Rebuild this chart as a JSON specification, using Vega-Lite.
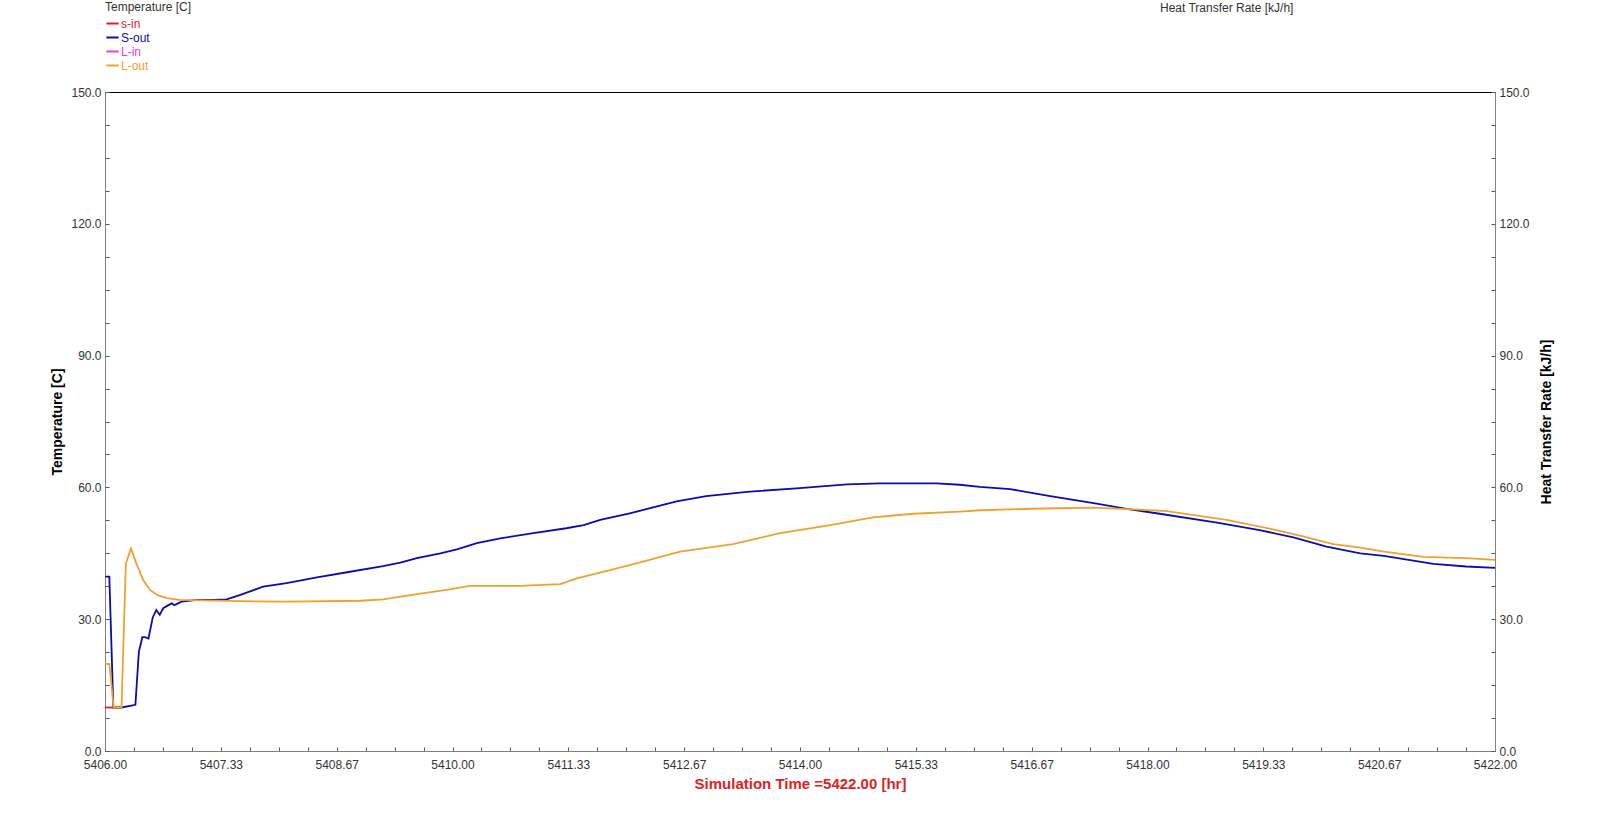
{
  "$schema": "https://vega.github.io/schema/vega-lite/v6.json",
  "autosize": {"type": "none"},
  "width": 1390,
  "height": 659,
  "padding": {"left": 105, "top": 92, "right": 105, "bottom": 71},
  "background": "white",
  "config": {
    "font": "Liberation Sans",
    "view": {"stroke": "#000000", "strokeWidth": 1}
  },
  "title": {
    "text": "Heat Transfer Rate [kJ/h]",
    "anchor": "start",
    "frame": "group",
    "orient": "top",
    "dx": 1055,
    "offset": -13,
    "fontSize": 12,
    "fontWeight": "normal",
    "color": "#333333",
    "font": "Liberation Sans"
  },
  "datasets": {
    "series": [
      {"t": 5406.00, "v": 9.9, "s": "s-in"},
      {"t": 5406.19, "v": 9.9, "s": "s-in"},

      {"t": 5406.00, "v": 39.7, "s": "S-out"},
      {"t": 5406.05, "v": 39.7, "s": "S-out"},
      {"t": 5406.096, "v": 9.9, "s": "S-out"},
      {"t": 5406.19, "v": 9.9, "s": "S-out"},
      {"t": 5406.35, "v": 10.5, "s": "S-out"},
      {"t": 5406.39, "v": 22.6, "s": "S-out"},
      {"t": 5406.43, "v": 25.9, "s": "S-out"},
      {"t": 5406.46, "v": 25.9, "s": "S-out"},
      {"t": 5406.50, "v": 25.6, "s": "S-out"},
      {"t": 5406.55, "v": 30.4, "s": "S-out"},
      {"t": 5406.59, "v": 32.1, "s": "S-out"},
      {"t": 5406.63, "v": 31.0, "s": "S-out"},
      {"t": 5406.67, "v": 32.5, "s": "S-out"},
      {"t": 5406.73, "v": 33.2, "s": "S-out"},
      {"t": 5406.77, "v": 33.6, "s": "S-out"},
      {"t": 5406.80, "v": 33.2, "s": "S-out"},
      {"t": 5406.88, "v": 34.0, "s": "S-out"},
      {"t": 5407.06, "v": 34.4, "s": "S-out"},
      {"t": 5407.25, "v": 34.4, "s": "S-out"},
      {"t": 5407.40, "v": 34.5, "s": "S-out"},
      {"t": 5407.55, "v": 35.5, "s": "S-out"},
      {"t": 5407.82, "v": 37.4, "s": "S-out"},
      {"t": 5408.09, "v": 38.2, "s": "S-out"},
      {"t": 5408.44, "v": 39.5, "s": "S-out"},
      {"t": 5408.82, "v": 40.8, "s": "S-out"},
      {"t": 5409.20, "v": 42.1, "s": "S-out"},
      {"t": 5409.40, "v": 42.9, "s": "S-out"},
      {"t": 5409.59, "v": 43.9, "s": "S-out"},
      {"t": 5409.86, "v": 45.0, "s": "S-out"},
      {"t": 5410.05, "v": 45.9, "s": "S-out"},
      {"t": 5410.28, "v": 47.3, "s": "S-out"},
      {"t": 5410.55, "v": 48.4, "s": "S-out"},
      {"t": 5410.93, "v": 49.6, "s": "S-out"},
      {"t": 5411.31, "v": 50.7, "s": "S-out"},
      {"t": 5411.51, "v": 51.4, "s": "S-out"},
      {"t": 5411.70, "v": 52.6, "s": "S-out"},
      {"t": 5412.04, "v": 54.1, "s": "S-out"},
      {"t": 5412.58, "v": 56.8, "s": "S-out"},
      {"t": 5412.92, "v": 58.0, "s": "S-out"},
      {"t": 5413.39, "v": 59.0, "s": "S-out"},
      {"t": 5413.96, "v": 59.8, "s": "S-out"},
      {"t": 5414.54, "v": 60.7, "s": "S-out"},
      {"t": 5414.92, "v": 60.9, "s": "S-out"},
      {"t": 5415.57, "v": 60.9, "s": "S-out"},
      {"t": 5415.84, "v": 60.6, "s": "S-out"},
      {"t": 5416.07, "v": 60.1, "s": "S-out"},
      {"t": 5416.42, "v": 59.6, "s": "S-out"},
      {"t": 5416.88, "v": 58.0, "s": "S-out"},
      {"t": 5417.38, "v": 56.4, "s": "S-out"},
      {"t": 5417.76, "v": 55.1, "s": "S-out"},
      {"t": 5418.14, "v": 54.0, "s": "S-out"},
      {"t": 5418.80, "v": 52.0, "s": "S-out"},
      {"t": 5419.29, "v": 50.3, "s": "S-out"},
      {"t": 5419.68, "v": 48.6, "s": "S-out"},
      {"t": 5420.06, "v": 46.5, "s": "S-out"},
      {"t": 5420.45, "v": 45.0, "s": "S-out"},
      {"t": 5420.72, "v": 44.4, "s": "S-out"},
      {"t": 5421.29, "v": 42.6, "s": "S-out"},
      {"t": 5421.67, "v": 42.0, "s": "S-out"},
      {"t": 5422.00, "v": 41.7, "s": "S-out"},

      {"t": 5406.00, "v": 19.8, "s": "L-out"},
      {"t": 5406.05, "v": 19.8, "s": "L-out"},
      {"t": 5406.10, "v": 9.9, "s": "L-out"},
      {"t": 5406.19, "v": 9.9, "s": "L-out"},
      {"t": 5406.24, "v": 42.7, "s": "L-out"},
      {"t": 5406.30, "v": 46.1, "s": "L-out"},
      {"t": 5406.36, "v": 42.7, "s": "L-out"},
      {"t": 5406.44, "v": 38.9, "s": "L-out"},
      {"t": 5406.52, "v": 36.6, "s": "L-out"},
      {"t": 5406.61, "v": 35.4, "s": "L-out"},
      {"t": 5406.71, "v": 34.8, "s": "L-out"},
      {"t": 5406.86, "v": 34.4, "s": "L-out"},
      {"t": 5407.55, "v": 34.1, "s": "L-out"},
      {"t": 5408.09, "v": 34.0, "s": "L-out"},
      {"t": 5408.94, "v": 34.2, "s": "L-out"},
      {"t": 5409.20, "v": 34.5, "s": "L-out"},
      {"t": 5409.59, "v": 35.7, "s": "L-out"},
      {"t": 5409.97, "v": 36.8, "s": "L-out"},
      {"t": 5410.20, "v": 37.6, "s": "L-out"},
      {"t": 5410.78, "v": 37.6, "s": "L-out"},
      {"t": 5411.24, "v": 38.0, "s": "L-out"},
      {"t": 5411.43, "v": 39.3, "s": "L-out"},
      {"t": 5411.70, "v": 40.6, "s": "L-out"},
      {"t": 5412.04, "v": 42.3, "s": "L-out"},
      {"t": 5412.62, "v": 45.4, "s": "L-out"},
      {"t": 5413.23, "v": 47.1, "s": "L-out"},
      {"t": 5413.77, "v": 49.6, "s": "L-out"},
      {"t": 5414.35, "v": 51.4, "s": "L-out"},
      {"t": 5414.84, "v": 53.2, "s": "L-out"},
      {"t": 5415.30, "v": 54.0, "s": "L-out"},
      {"t": 5415.84, "v": 54.5, "s": "L-out"},
      {"t": 5416.07, "v": 54.8, "s": "L-out"},
      {"t": 5416.80, "v": 55.2, "s": "L-out"},
      {"t": 5417.38, "v": 55.4, "s": "L-out"},
      {"t": 5417.84, "v": 55.0, "s": "L-out"},
      {"t": 5418.22, "v": 54.6, "s": "L-out"},
      {"t": 5418.91, "v": 52.6, "s": "L-out"},
      {"t": 5419.48, "v": 50.3, "s": "L-out"},
      {"t": 5419.80, "v": 48.8, "s": "L-out"},
      {"t": 5420.14, "v": 47.1, "s": "L-out"},
      {"t": 5420.45, "v": 46.3, "s": "L-out"},
      {"t": 5420.72, "v": 45.4, "s": "L-out"},
      {"t": 5421.18, "v": 44.2, "s": "L-out"},
      {"t": 5421.67, "v": 43.9, "s": "L-out"},
      {"t": 5422.00, "v": 43.5, "s": "L-out"}
    ]
  },
  "layer": [
    {
      "data": {"name": "series"},
      "mark": {"type": "line", "strokeWidth": 1.8, "interpolate": "linear"},
      "encoding": {
        "x": {
          "field": "t",
          "type": "quantitative",
          "scale": {"domain": [5406, 5422], "nice": false, "zero": false},
          "axis": {
            "values": [5406, 5406.3333, 5406.6667, 5407, 5407.3333, 5407.6667, 5408, 5408.3333, 5408.6667, 5409, 5409.3333, 5409.6667, 5410, 5410.3333, 5410.6667, 5411, 5411.3333, 5411.6667, 5412, 5412.3333, 5412.6667, 5413, 5413.3333, 5413.6667, 5414, 5414.3333, 5414.6667, 5415, 5415.3333, 5415.6667, 5416, 5416.3333, 5416.6667, 5417, 5417.3333, 5417.6667, 5418, 5418.3333, 5418.6667, 5419, 5419.3333, 5419.6667, 5420, 5420.3333, 5420.6667, 5421, 5421.3333, 5421.6667, 5422],
            "labelExpr": "round((datum.value - 5406) * 3) % 4 == 0 ? format(datum.value, '.2f') : ''",
            "grid": false,
            "tickSize": -4,
            "tickColor": "#555555",
            "domainColor": "#808080",
            "labelPadding": 12,
            "labelFontSize": 12,
            "labelColor": "#333333",
            "labelFont": "Liberation Sans",
            "labelOverlap": false,
            "labelFlush": false,
            "title": "Simulation Time =5422.00 [hr]",
            "titleColor": "#dd2222",
            "titleFontSize": 15,
            "titleFontWeight": "bold",
            "titleFont": "Liberation Sans",
            "titlePadding": 6
          }
        },
        "y": {
          "field": "v",
          "type": "quantitative",
          "scale": {"domain": [0, 150], "nice": false},
          "axis": {
            "values": [0, 7.5, 15, 22.5, 30, 37.5, 45, 52.5, 60, 67.5, 75, 82.5, 90, 97.5, 105, 112.5, 120, 127.5, 135, 142.5, 150],
            "labelExpr": "datum.value % 30 == 0 ? format(datum.value, '.1f') : ''",
            "grid": false,
            "tickSize": -4,
            "tickColor": "#555555",
            "domainColor": "#808080",
            "labelPadding": 8,
            "labelFontSize": 12,
            "labelColor": "#333333",
            "labelFont": "Liberation Sans",
            "labelOverlap": false,
            "title": "Temperature [C]",
            "titleColor": "#000000",
            "titleFontSize": 14,
            "titleFontWeight": "bold",
            "titleFont": "Liberation Sans",
            "titlePadding": 6
          }
        },
        "color": {
          "field": "s",
          "type": "nominal",
          "scale": {
            "domain": ["s-in", "S-out", "L-in", "L-out"],
            "range": ["#e02020", "#0c0cb0", "#e040e0", "#f0a030"]
          },
          "legend": {
            "orient": "none",
            "legendX": 0,
            "legendY": -90,
            "title": "Temperature [C]",
            "titleFontSize": 12,
            "titleFontWeight": "normal",
            "titleColor": "#333333",
            "titleFont": "Liberation Sans",
            "titlePadding": 2,
            "labelFontSize": 12,
            "labelFont": "Liberation Sans",
            "symbolType": "stroke",
            "symbolStrokeWidth": 2,
            "symbolSize": 150,
            "rowPadding": -0.5,
            "labelOffset": 1,
            "padding": 0,
            "encode": {
              "labels": {"update": {"fill": {"scale": "color", "field": "value"}}}
            }
          }
        },
        "order": {"field": "t", "type": "quantitative"}
      }
    },
    {
      "data": {"values": [{"r": 0}]},
      "mark": {"type": "rule", "opacity": 0},
      "encoding": {
        "y": {
          "field": "r",
          "type": "quantitative",
          "scale": {"domain": [0, 150], "nice": false},
          "axis": {
            "orient": "right",
            "values": [0, 7.5, 15, 22.5, 30, 37.5, 45, 52.5, 60, 67.5, 75, 82.5, 90, 97.5, 105, 112.5, 120, 127.5, 135, 142.5, 150],
            "labelExpr": "datum.value % 30 == 0 ? format(datum.value, '.1f') : ''",
            "grid": false,
            "tickSize": -4,
            "tickColor": "#555555",
            "domainColor": "#808080",
            "labelPadding": 8,
            "labelFontSize": 12,
            "labelColor": "#333333",
            "labelFont": "Liberation Sans",
            "labelOverlap": false,
            "title": "Heat Transfer Rate [kJ/h]",
            "titleAngle": 270,
            "titleColor": "#000000",
            "titleFontSize": 14,
            "titleFontWeight": "bold",
            "titleFont": "Liberation Sans",
            "titlePadding": 24
          }
        }
      }
    }
  ],
  "resolve": {"scale": {"y": "independent"}}
}
